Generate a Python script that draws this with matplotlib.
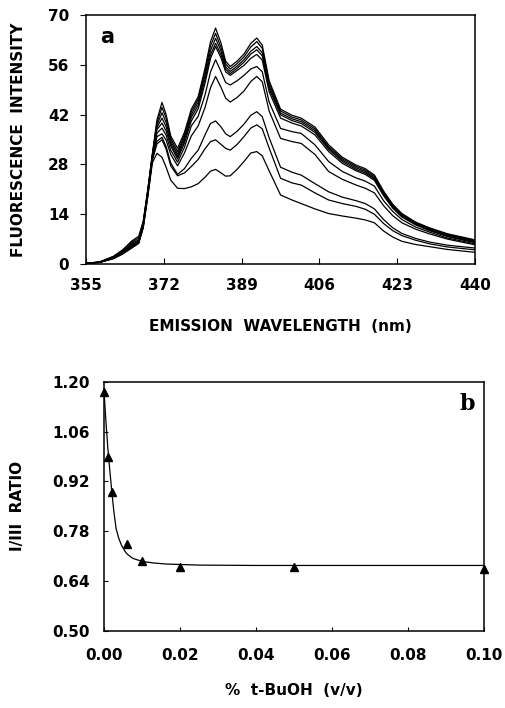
import matplotlib
matplotlib.use("Agg")
import matplotlib.pyplot as plt

# panel a: emission spectra (nm vs intensity), ten t-BuOH levels
wavelength = [355, 358, 361, 363, 365, 366.5, 367.5, 368.5, 369.5, 370.5,
              371.6, 372.5, 373.5, 375, 376.5, 378, 379.5, 381, 382.2, 383.3,
              384.5, 385.5, 386.5, 388, 389.5, 391, 392.3, 393.5, 395, 397.5,
              400, 402, 405, 408, 411, 414, 416, 418, 420, 422,
              424, 427, 430, 434, 440]

spec1 = [0.2, 0.6, 2.2, 4.0, 6.5, 7.8, 12.0, 21.0, 31.0, 40.5,
         45.4, 42.0, 36.0, 32.5, 37.0, 43.5, 47.0, 55.0, 62.5, 66.3,
         62.0, 57.0, 55.5, 57.0, 59.0, 62.0, 63.5, 61.5, 51.5, 43.5,
         41.8, 41.0, 38.5, 33.5, 30.0, 27.8, 26.8, 25.0, 20.5, 16.8,
         14.2, 11.8, 10.2, 8.5, 6.8]
spec2 = [0.2, 0.6, 2.1, 3.8, 6.2, 7.3, 11.8, 20.8, 30.8, 39.8,
         44.0, 41.0, 35.3, 31.6, 36.3, 42.8, 46.3, 54.0, 61.3, 64.8,
         60.8, 56.2, 54.8, 56.3, 58.2, 61.0, 62.5, 60.6, 50.8, 43.0,
         41.3, 40.5, 38.0, 33.0, 29.6, 27.4, 26.4, 24.6, 20.2, 16.5,
         13.9, 11.6, 10.0, 8.3, 6.6]
spec3 = [0.2, 0.6, 2.0, 3.6, 5.9, 6.8, 11.6, 20.6, 30.6, 39.0,
         42.5, 39.8, 34.6, 30.8, 35.6, 42.0, 45.5, 53.0, 60.0, 63.4,
         59.8, 55.4, 54.1, 55.6, 57.4, 59.8, 61.1, 59.4, 50.0, 42.4,
         40.8, 40.0, 37.5, 32.6, 29.2, 27.0, 26.0, 24.2, 19.9, 16.2,
         13.7, 11.4, 9.8, 8.1, 6.4]
spec4 = [0.2, 0.5, 1.9, 3.5, 5.6, 6.4, 11.4, 20.4, 30.4, 38.4,
         41.0, 38.6, 33.9, 30.1, 34.8, 41.2, 44.6, 52.0, 58.8, 62.0,
         58.8, 54.7, 53.5, 55.0, 56.7, 59.0, 60.2, 58.5, 49.3, 41.9,
         40.3, 39.5, 37.0, 32.2, 28.8, 26.6, 25.6, 23.9, 19.6, 16.0,
         13.5, 11.2, 9.6, 7.9, 6.2]
spec5 = [0.2, 0.5, 1.8, 3.4, 5.4, 6.1, 11.2, 20.2, 30.2, 37.8,
         39.6, 37.4, 33.2, 29.5, 34.0, 40.2, 43.6, 50.8, 57.8, 61.1,
         57.9, 54.0, 53.0, 54.4, 55.8, 57.8, 58.9, 57.3, 48.4, 41.0,
         39.6, 38.8, 36.3, 31.6, 28.3, 26.2, 25.2, 23.5, 19.2, 15.7,
         13.2, 11.0, 9.4, 7.7, 6.0]
spec6 = [0.2, 0.5, 1.8, 3.3, 5.2, 6.3, 11.0, 20.0, 30.0, 36.8,
         38.2, 36.2, 32.0, 28.6, 32.8, 38.8, 41.5, 47.5, 54.0, 57.4,
         54.0, 51.0, 50.3, 51.5, 53.0, 54.8, 55.5, 54.0, 45.5, 38.1,
         37.2, 36.7, 33.5, 28.8, 26.0, 24.2, 23.3, 21.9, 17.8, 14.8,
         12.5, 10.4, 9.0, 7.3, 5.7]
spec7 = [0.2, 0.5, 1.7, 3.2, 5.0, 6.2, 10.8, 19.8, 29.8, 35.8,
         36.6, 34.8, 30.8, 27.6, 31.2, 36.0, 38.8, 44.0, 49.6, 52.7,
         49.6, 46.6, 45.5, 46.8, 48.6, 51.3, 52.7, 51.2, 43.0, 35.3,
         34.4, 33.9, 30.8, 26.0, 23.8, 22.2, 21.3, 20.0, 16.4, 13.6,
         11.6, 9.8, 8.5, 7.0, 5.4]
spec8 = [0.2, 0.5, 1.6, 3.0, 4.8, 6.0, 10.5, 19.5, 29.5, 34.5,
         35.6, 33.0, 28.4, 25.2, 26.8, 29.7, 32.0, 36.3, 39.5, 40.2,
         38.5, 36.6, 35.8, 37.3, 39.3, 41.8, 42.8, 41.4, 35.5, 27.2,
         25.8, 25.0, 22.6, 20.3, 18.8, 17.8, 17.0, 15.5, 12.5, 10.2,
         8.6, 7.2, 6.2, 5.3, 4.5]
spec9 = [0.2, 0.5, 1.6, 3.0, 4.7, 5.9, 10.4, 19.3, 29.2, 33.8,
         34.9, 32.3, 27.6, 24.8, 25.6, 27.4, 29.4, 32.4, 34.4, 34.9,
         33.6, 32.5, 32.0, 33.6, 35.8, 38.2, 39.1, 38.0, 32.6, 24.1,
         22.8, 22.2, 20.0, 18.0, 17.0, 16.2, 15.4, 14.0, 11.4, 9.4,
         8.0, 6.7, 5.7, 4.8, 4.0]
spec10 = [0.2, 0.5, 1.5, 2.8, 4.5, 5.8, 10.2, 19.0, 28.5, 31.1,
          30.0, 27.2, 23.6, 21.3, 21.2, 21.7, 22.6, 24.4, 26.1, 26.6,
          25.6, 24.7, 24.8, 26.6, 28.8, 31.2, 31.6, 30.4, 26.2, 19.4,
          18.0, 17.0, 15.5, 14.2, 13.5, 12.9, 12.4, 11.6, 9.3, 7.6,
          6.4, 5.5, 4.9, 4.1, 3.3]
spectra = [spec1, spec2, spec3, spec4, spec5, spec6, spec7, spec8, spec9, spec10]

wl_ticks = [355, 372, 389, 406, 423, 440]
int_ticks = [0, 14, 28, 42, 56, 70]

# panel b: I/III ratio vs % t-BuOH
butanol = [0.0, 0.001, 0.002, 0.006, 0.010, 0.020, 0.050, 0.100]
ratio = [1.17, 0.99, 0.89, 0.744, 0.697, 0.681, 0.681, 0.673]
fit_x = [0.0, 0.0005, 0.001, 0.0015, 0.002, 0.0026, 0.0032, 0.0039, 0.0046,
         0.0053, 0.0059, 0.0068, 0.0076, 0.009, 0.0103, 0.013, 0.0164,
         0.025, 0.04, 0.07, 0.10]
fit_y = [1.175, 1.09, 1.015, 0.955, 0.898, 0.835, 0.787, 0.760, 0.741,
         0.728, 0.718, 0.710, 0.704, 0.699, 0.695, 0.691, 0.688,
         0.685, 0.684, 0.684, 0.684]
ratio_ticks = [0.50, 0.64, 0.78, 0.92, 1.06, 1.20]
conc_ticks = [0.00, 0.02, 0.04, 0.06, 0.08, 0.10]

plt.rcParams['font.family'] = ['DejaVu Sans']
plt.rcParams['font.weight'] = 'bold'

fig = plt.figure(figsize=(5.06, 7.08), dpi=100)

ax1 = fig.add_axes([0.170, 0.627, 0.769, 0.352])
for s in spectra:
    ax1.plot(wavelength, s, color='black', lw=0.9)
ax1.set_xlim(355, 440)
ax1.set_ylim(0, 70)
ax1.set_xticks(wl_ticks)
ax1.set_yticks(int_ticks)
ax1.tick_params(axis='x', direction='in', length=4, pad=10, labelsize=11)
ax1.tick_params(axis='y', direction='out', length=4, pad=8, labelsize=11)
ax1.set_xlabel('EMISSION  WAVELENGTH  (nm)', fontsize=11, fontweight='bold', labelpad=19)
ax1.set_ylabel('FLUORESCENCE  INTENSITY', fontsize=11, fontweight='bold', labelpad=16)
ax1.text(0.055, 0.91, 'a', transform=ax1.transAxes, fontsize=15, fontweight='bold',
         va='center', ha='center')

ax2 = fig.add_axes([0.2055, 0.1088, 0.751, 0.352])
ax2.plot(fit_x, fit_y, color='black', lw=0.9)
ax2.plot(butanol, ratio, linestyle='none', marker='^', color='black', markersize=6,
         clip_on=False)
ax2.set_xlim(0, 0.10)
ax2.set_ylim(0.50, 1.20)
ax2.set_xticks(conc_ticks)
ax2.set_yticks(ratio_ticks)
ax2.set_xticklabels([f'{v:.2f}' for v in conc_ticks])
ax2.set_yticklabels([f'{v:.2f}' for v in ratio_ticks])
ax2.tick_params(axis='x', direction='in', length=3, pad=12, labelsize=11)
ax2.tick_params(axis='y', direction='in', length=3, pad=10, labelsize=11)
ax2.set_xlabel('%  t-BuOH  (v/v)', fontsize=11, fontweight='bold', labelpad=15)
ax2.set_ylabel('I/III  RATIO', fontsize=11, fontweight='bold', labelpad=20)
ax2.text(0.955, 0.91, 'b', transform=ax2.transAxes, fontsize=16, fontweight='bold',
         family='serif', va='center', ha='center')

for ax in (ax1, ax2):
    for sp in ax.spines.values():
        sp.set_linewidth(1.1)

fig.savefig('out.png', dpi=100)
